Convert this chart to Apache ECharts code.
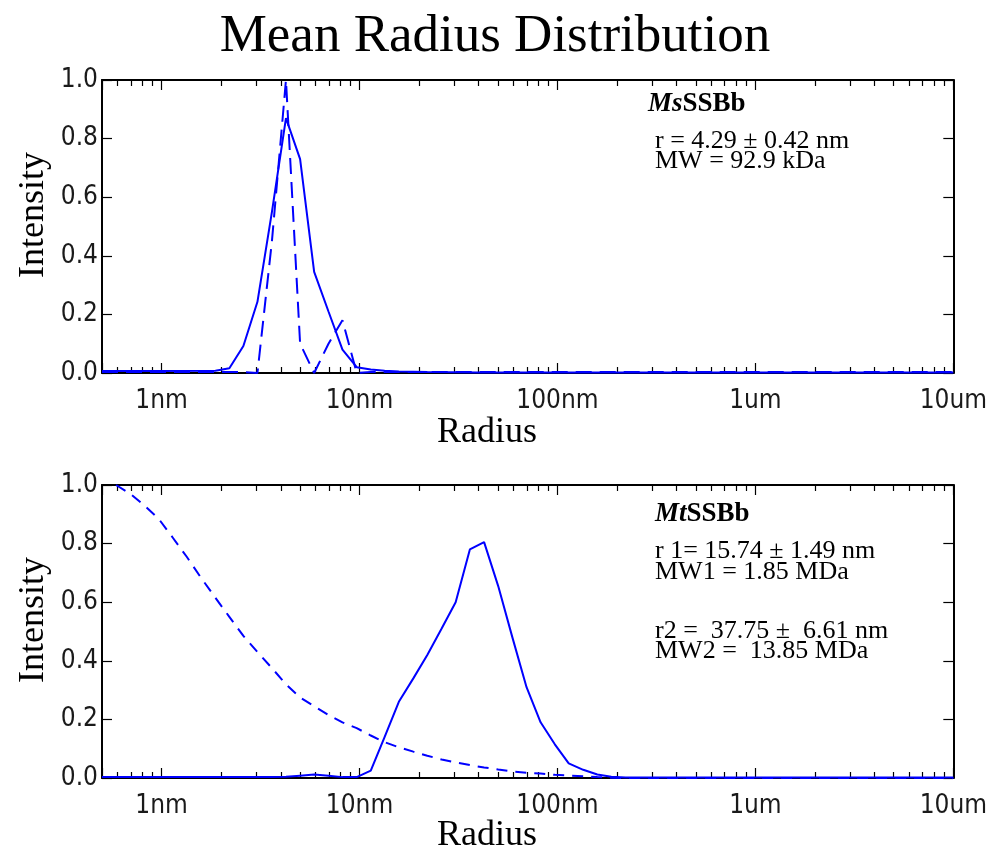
<!DOCTYPE html>
<html><head><meta charset="utf-8">
<script src="https://cdn.jsdelivr.net/npm/echarts@6/dist/echarts.min.js"></script>
<style>html,body{margin:0;padding:0;background:#fff}#c{width:990px;height:850px}</style>
</head><body><div id="c"></div>
<script>
// ---- axes / ticks ----
const xMin = 0.5, xMax = 10000;
const xTickValues = [1, 10, 100, 1000, 10000];
const xTickLabels = ['1nm', '10nm', '100nm', '1um', '10um'];
const yMin = 0, yMax = 1.0, yStep = 0.2;

// ---- top panel (MsSSBb) ----
const topSolidR = [0.5, 1.0, 1.87, 2.20, 2.59, 3.05, 3.61, 4.25, 5.01, 5.90, 6.97, 8.20, 9.68, 11.4, 13.4, 15.8, 22.0, 40, 10000];
const topSolidV = [0.007, 0.007, 0.008, 0.016, 0.092, 0.243, 0.55, 0.87, 0.73, 0.345, 0.21, 0.08, 0.02, 0.012, 0.008, 0.005, 0.003, 0.002, 0.002];
const topDashR = [0.5, 2.59, 3.05, 3.61, 4.25, 5.01, 5.90, 6.97, 8.20, 9.68, 11.4, 10000];
const topDashV = [0.003, 0.003, 0.0, 0.45, 1.0, 0.1, 0.0, 0.1, 0.18, 0.0, 0.003, 0.003];

// ---- bottom panel (MtSSBb) ----
const botSolidR = [0.5, 3.61, 4.25, 5.01, 5.90, 6.97, 8.20, 9.68, 11.4, 13.4, 15.8, 18.7, 22.0, 26.0, 30.6, 36.1, 42.6, 50.2, 59.2, 69.8, 82.2, 97.0, 114, 135, 159, 187, 221, 400, 10000];
const botSolidV = [0.003, 0.003, 0.004, 0.008, 0.012, 0.008, 0.003, 0.003, 0.025, 0.14, 0.26, 0.34, 0.42, 0.51, 0.60, 0.78, 0.805, 0.655, 0.48, 0.31, 0.19, 0.115, 0.05, 0.028, 0.012, 0.004, 0.002, 0.002, 0.002];
const botDashR = [0.589, 0.695, 0.819, 0.966, 1.14, 1.34, 1.58, 1.87, 2.20, 2.59, 3.05, 3.61, 4.25, 5.01, 5.90, 6.97, 8.20, 9.68, 11.4, 13.4, 15.8, 18.7, 22.0, 26.0, 30.6, 36.1, 42.6, 50.2, 59.2, 69.8, 82.2, 97.0, 114, 135, 159, 187, 221, 10000];
const botDashV = [1.0, 0.97, 0.93, 0.885, 0.82, 0.755, 0.684, 0.615, 0.55, 0.485, 0.43, 0.375, 0.32, 0.275, 0.245, 0.215, 0.19, 0.17, 0.145, 0.122, 0.105, 0.09, 0.076, 0.063, 0.053, 0.044, 0.036, 0.029, 0.022, 0.018, 0.015, 0.011, 0.008, 0.006, 0.003, 0.001, 0.0, 0.0];

// ---- texts ----
const titleText = 'Mean Radius Distribution';
const xName = 'Radius';
const yName = 'Intensity';
const topNotes = ['r = 4.29 \u00b1 0.42 nm', 'MW = 92.9 kDa'];
const botNotes = ['r 1= 15.74 \u00b1 1.49 nm', 'MW1 = 1.85 MDa', 'r2 =  37.75 \u00b1  6.61 nm', 'MW2 =  13.85 MDa'];

const zip = (r, v) => r.map((x, i) => [x, v[i]]);

const tickFont = "'Liberation Sans Narrow','DejaVu Sans Condensed','Arial Narrow',sans-serif";
const serif = "'Liberation Serif','Times New Roman',serif";
const BLUE = '#0000ff';
const AX = '#000';

const grids = [
  { left: 102, right: 33, top: 80, height: 293 },
  { left: 102, right: 33, top: 485, height: 293 }
];

function xAxesFor(g, pos) {
  const isBottom = pos === 'bottom';
  return {
    gridIndex: g, type: 'log', logBase: 10, min: xMin, max: xMax, position: pos,
    splitLine: { show: false },
    axisLine: { show: true, onZero: false, lineStyle: { color: AX, width: 2 } },
    axisTick: { show: true, inside: true, length: 10, lineStyle: { color: AX, width: 1.2 } },
    minorTick: { show: true, splitNumber: 9, length: 6, lineStyle: { color: AX, width: 1.2 } },
    axisLabel: isBottom ? {
      margin: 15, fontSize: 26, fontFamily: tickFont, color: '#1a1a1a',
      showMinLabel: false, showMaxLabel: true,
      formatter: v => { const i = xTickValues.findIndex(t => Math.abs(t - v) / t < 1e-6); return i >= 0 ? xTickLabels[i] : ''; }
    } : { show: false }
  };
}
function yAxesFor(g, pos) {
  return {
    gridIndex: g, type: 'value', min: yMin, max: yMax, interval: yStep, position: pos,
    splitLine: { show: false },
    axisLine: { show: true, onZero: false, lineStyle: { color: AX, width: 2 } },
    axisTick: { show: true, inside: true, length: 10, lineStyle: { color: AX, width: 1.2 } },
    axisLabel: pos === 'left'
      ? { margin: 4, fontSize: 26, fontFamily: tickFont, color: '#1a1a1a', formatter: v => v.toFixed(1) }
      : { show: false }
  };
}

function line(data, xi, yi, dash) {
  return {
    type: 'line', data, xAxisIndex: xi, yAxisIndex: yi, symbol: 'none', silent: true,
    lineStyle: { color: BLUE, width: 2, type: dash || 'solid' }, z: 3
  };
}

function txt(x, y, text, font, opts) {
  return { type: 'text', x, y, style: Object.assign({ text, font, fill: '#000', textAlign: 'left', textVerticalAlign: 'middle' }, opts || {}) };
}

const noteFont = '26px ' + serif;
const boldRich = {
  bi: { font: 'italic bold 27px ' + serif, fill: '#000' },
  b: { font: 'bold 27px ' + serif, fill: '#000' }
};
const graphics = [
  txt(495, 37, titleText, '53px ' + serif, { textAlign: 'center' }),
  txt(487, 433, xName, '36px ' + serif, { textAlign: 'center' }),
  txt(487, 836, xName, '36px ' + serif, { textAlign: 'center' }),
  { type: 'text', x: 34, y: 215, rotation: Math.PI / 2, style: { text: yName, font: '36px ' + serif, fill: '#000', textAlign: 'center', textVerticalAlign: 'middle' } },
  { type: 'text', x: 34, y: 620, rotation: Math.PI / 2, style: { text: yName, font: '36px ' + serif, fill: '#000', textAlign: 'center', textVerticalAlign: 'middle' } },
  { type: 'text', x: 648, y: 104, style: { text: '{bi|Ms}{b|SSBb}', textVerticalAlign: 'middle', rich: boldRich } },
  txt(655, 141, topNotes[0], noteFont),
  txt(655, 161, topNotes[1], noteFont),
  { type: 'text', x: 655, y: 514, style: { text: '{bi|Mt}{b|SSBb}', textVerticalAlign: 'middle', rich: boldRich } },
  txt(655, 551, botNotes[0], noteFont),
  txt(655, 572, botNotes[1], noteFont),
  txt(655, 631, botNotes[2], noteFont),
  txt(655, 651, botNotes[3], noteFont)
];

const chart = echarts.init(document.getElementById('c'), null, { renderer: 'canvas' });
chart.setOption({
  animation: false,
  backgroundColor: '#fff',
  grid: grids,
  xAxis: [xAxesFor(0, 'bottom'), xAxesFor(0, 'top'), xAxesFor(1, 'bottom'), xAxesFor(1, 'top')],
  yAxis: [yAxesFor(0, 'left'), yAxesFor(0, 'right'), yAxesFor(1, 'left'), yAxesFor(1, 'right')],
  series: [
    line(zip(topSolidR, topSolidV), 0, 0),
    line(zip(topDashR, topDashV), 0, 0, [16, 8]),
    line(zip(botSolidR, botSolidV), 2, 2),
    line(zip(botDashR, botDashV), 2, 2, [11, 8])
  ],
  graphic: graphics
});
</script></body></html>
